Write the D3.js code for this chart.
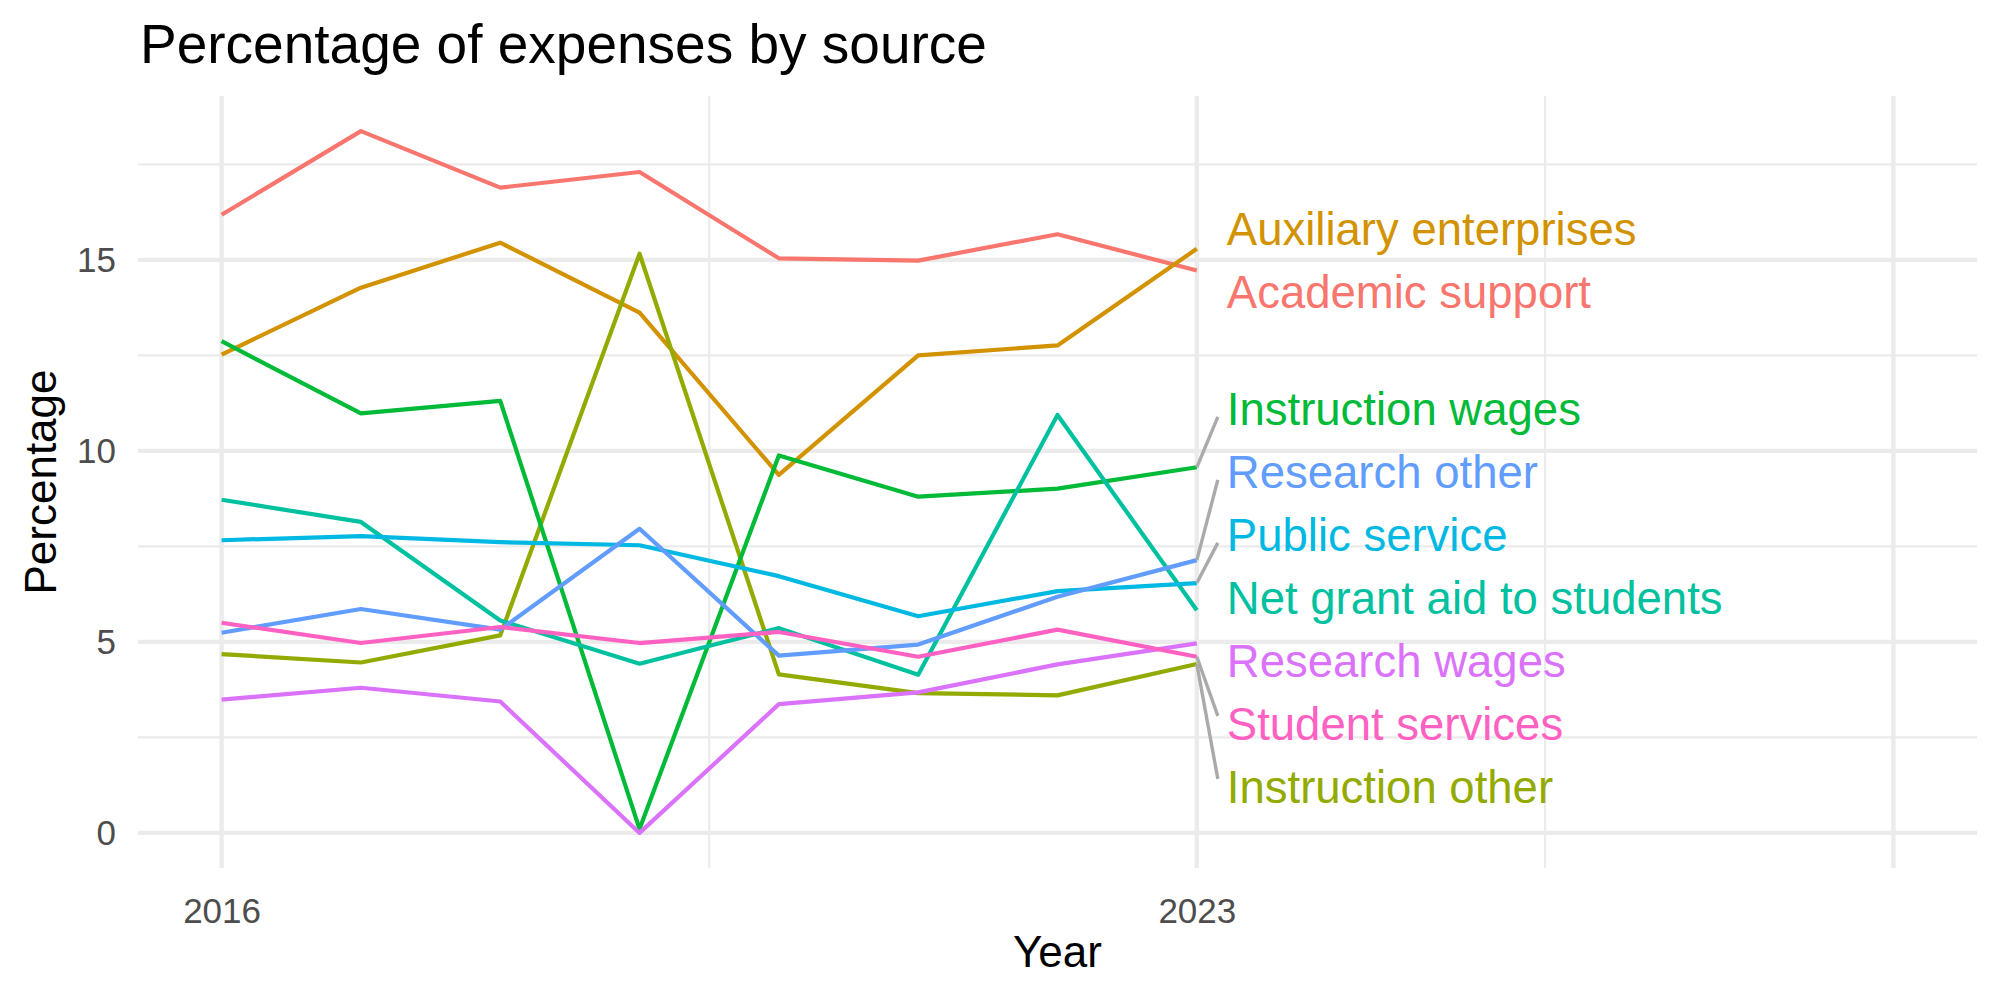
<!DOCTYPE html>
<html>
<head>
<meta charset="utf-8">
<script src="https://cdn.jsdelivr.net/npm/d3@7"></script>
<style>
  body { margin: 0; background: #ffffff; }
  text { font-family: "Liberation Sans", Arial, sans-serif; }
</style>
</head>
<body>
<div id="chart"></div>
<script>
var width = 2000;
var height = 1000;

// data ++++++++++++++++++++++++++++++++++++
var years = [2016, 2017, 2018, 2019, 2020, 2021, 2022, 2023];

var academicSupport = [16.18, 18.37, 16.89, 17.30, 15.04, 14.98, 15.67, 14.72];
var auxiliaryEnterprises = [12.52, 14.27, 15.45, 13.62, 9.37, 12.50, 12.76, 15.29];
var instructionOther = [4.68, 4.46, 5.17, 15.16, 4.15, 3.66, 3.60, 4.42];
var instructionWages = [12.87, 10.98, 11.31, 0.1, 9.88, 8.80, 9.01, 9.57];
var netGrantAid = [8.72, 8.14, 5.56, 4.43, 5.36, 4.14, 10.94, 5.83];
var publicService = [7.66, 7.77, 7.61, 7.53, 6.72, 5.67, 6.33, 6.54];
var researchOther = [5.24, 5.86, 5.32, 7.96, 4.64, 4.93, 6.18, 7.14];
var researchWages = [3.49, 3.80, 3.44, 0, 3.37, 3.68, 4.41, 4.96];
var studentServices = [5.50, 4.97, 5.39, 4.97, 5.26, 4.61, 5.32, 4.61];

var sourceNames = ["Academic support", "Auxiliary enterprises", "Instruction other",
  "Instruction wages", "Net grant aid to students", "Public service",
  "Research other", "Research wages", "Student services"];
var sourceValues = [academicSupport, auxiliaryEnterprises, instructionOther,
  instructionWages, netGrantAid, publicService, researchOther, researchWages,
  studentServices];
var sourceColors = ["#F8766D", "#D39200", "#93AA00", "#00BA38", "#00C19F",
  "#00B9E3", "#619CFF", "#DB72FB", "#FF61C3"];

var xTicks = [2016, 2023, 2028];
var xTickLabels = ["2016", "2023", ""];
var xMinor = [2019.5, 2025.5];
var yTicks = [0, 5, 10, 15];
var yMinor = [2.5, 7.5, 12.5, 17.5];
//++++++++++++++++++++++++++++++++++++++++++++++++++++++++++++++++

var series = sourceNames.map(function (name, i) {
  return {
    name: name,
    color: sourceColors[i],
    points: years.map(function (y, j) { return { year: y, value: sourceValues[i][j] }; })
  };
});

// Axis setup (ggplot style 5% expansion)
var xLimits = [2016, 2028];
var xPad = (xLimits[1] - xLimits[0]) * 0.05;
var xScale = d3.scaleLinear()
  .domain([xLimits[0] - xPad, xLimits[1] + xPad])
  .range([138, 1977]);

var yMax = d3.max(sourceValues, function (s) { return d3.max(s); });
var yPad = yMax * 0.05;
var yScale = d3.scaleLinear()
  .domain([0 - yPad, yMax + yPad])
  .range([868, 96]);

var svg = d3.select("#chart")
  .append("svg")
  .attr("width", width)
  .attr("height", height);

// grid lines
var grid = svg.append("g").attr("class", "grid");

grid.selectAll(".yminor")
  .data(yMinor)
  .enter()
  .append("line")
  .attr("x1", xScale.range()[0])
  .attr("x2", xScale.range()[1])
  .attr("y1", function (d) { return yScale(d); })
  .attr("y2", function (d) { return yScale(d); })
  .attr("stroke", "#EBEBEB")
  .attr("stroke-width", 2.2);

grid.selectAll(".xminor")
  .data(xMinor)
  .enter()
  .append("line")
  .attr("x1", function (d) { return xScale(d); })
  .attr("x2", function (d) { return xScale(d); })
  .attr("y1", yScale.range()[0])
  .attr("y2", yScale.range()[1])
  .attr("stroke", "#EBEBEB")
  .attr("stroke-width", 2.2);

grid.selectAll(".ymajor")
  .data(yTicks)
  .enter()
  .append("line")
  .attr("x1", xScale.range()[0])
  .attr("x2", xScale.range()[1])
  .attr("y1", function (d) { return yScale(d); })
  .attr("y2", function (d) { return yScale(d); })
  .attr("stroke", "#EBEBEB")
  .attr("stroke-width", 4.4);

grid.selectAll(".xmajor")
  .data(xTicks)
  .enter()
  .append("line")
  .attr("x1", function (d) { return xScale(d); })
  .attr("x2", function (d) { return xScale(d); })
  .attr("y1", yScale.range()[0])
  .attr("y2", yScale.range()[1])
  .attr("stroke", "#EBEBEB")
  .attr("stroke-width", 4.4);

// axes (labels only, theme_minimal has no axis lines)
var xAxis = d3.axisBottom(xScale)
  .tickValues(xTicks)
  .tickFormat(function (d, i) { return xTickLabels[i]; })
  .tickSize(0)
  .tickPadding(30);

var yAxis = d3.axisLeft(yScale)
  .tickValues(yTicks)
  .tickSize(0)
  .tickPadding(22);

svg.append("g")
  .attr("transform", "translate(0," + yScale.range()[0] + ")")
  .call(xAxis)
  .call(function (g) { g.select(".domain").remove(); })
  .selectAll("text")
  .attr("fill", "#4D4D4D")
  .attr("font-size", "35px")
  .attr("font-family", "Liberation Sans, Arial, sans-serif");

svg.append("g")
  .attr("transform", "translate(" + xScale.range()[0] + ",0)")
  .call(yAxis)
  .call(function (g) { g.select(".domain").remove(); })
  .selectAll("text")
  .attr("fill", "#4D4D4D")
  .attr("font-size", "35px")
  .attr("font-family", "Liberation Sans, Arial, sans-serif");

// lines
var line = d3.line()
  .x(function (d) { return xScale(d.year); })
  .y(function (d) { return yScale(d.value); });

svg.append("g")
  .selectAll("path")
  .data(series)
  .enter()
  .append("path")
  .attr("d", function (d) { return line(d.points); })
  .attr("fill", "none")
  .attr("stroke", function (d) { return d.color; })
  .attr("stroke-width", 4.2)
  .attr("stroke-linejoin", "round");

// end labels, pushed apart like ggrepel (1D only)
var lastYear = years[years.length - 1];
var labelX = xScale(lastYear) + 30;
var spacing = 63;

var labels = series.map(function (s) {
  var v = s.points[s.points.length - 1].value;
  return { name: s.name, color: s.color, target: yScale(v), y: yScale(v) };
}).sort(function (a, b) { return a.target - b.target; });

var clusters = labels.map(function (l) { return [l]; });
function placeCluster(c) {
  var mean = d3.mean(c, function (l) { return l.target; });
  c.forEach(function (l, k) { l.y = mean + (k - (c.length - 1) / 2) * spacing; });
}
clusters.forEach(placeCluster);
var merged = true;
while (merged) {
  merged = false;
  for (var i = 0; i < clusters.length - 1; ++i) {
    var a = clusters[i], b = clusters[i + 1];
    if (a[a.length - 1].y + spacing > b[0].y) {
      clusters.splice(i, 2, a.concat(b));
      placeCluster(clusters[i]);
      merged = true;
      break;
    }
  }
}

// connector segments for labels far from their point
svg.append("g")
  .selectAll("line")
  .data(labels.filter(function (l) { return Math.abs(l.y - l.target) > 35; }))
  .enter()
  .append("line")
  .attr("x1", xScale(lastYear))
  .attr("y1", function (d) { return d.target; })
  .attr("x2", labelX - 9)
  .attr("y2", function (d) { return d.y + Math.max(-8, Math.min(8, d.target - d.y)); })
  .attr("stroke", "#AAAAAA")
  .attr("stroke-width", 3.4);

svg.append("g")
  .selectAll("text")
  .data(labels)
  .enter()
  .append("text")
  .attr("x", labelX)
  .attr("y", function (d) { return d.y; })
  .attr("dy", "0.36em")
  .attr("font-size", "45.5px")
  .attr("fill", function (d) { return d.color; })
  .text(function (d) { return d.name; });

// title and axis titles
svg.append("text")
  .attr("x", 140)
  .attr("y", 63)
  .attr("font-size", "55px")
  .attr("fill", "#000000")
  .text("Percentage of expenses by source");

svg.append("text")
  .attr("x", (xScale.range()[0] + xScale.range()[1]) / 2)
  .attr("y", 967)
  .attr("text-anchor", "middle")
  .attr("font-size", "44px")
  .attr("fill", "#000000")
  .text("Year");

svg.append("text")
  .attr("transform", "translate(56," + (yScale.range()[0] + yScale.range()[1]) / 2 + ") rotate(-90)")
  .attr("text-anchor", "middle")
  .attr("font-size", "44px")
  .attr("fill", "#000000")
  .text("Percentage");
</script>
</body>
</html>
